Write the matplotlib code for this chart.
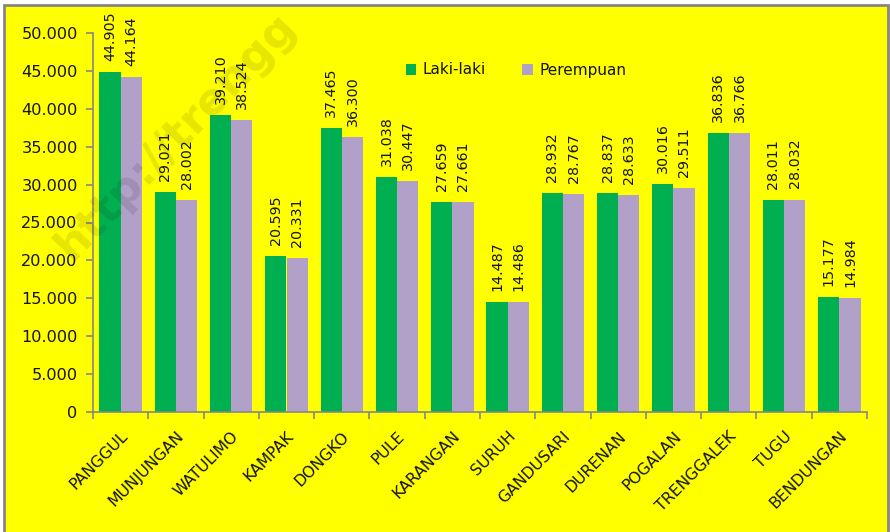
"""Jumlah penduduk per kecamatan di Trenggalek, laki-laki dan perempuan."""

import matplotlib

matplotlib.use("Agg")
import matplotlib.pyplot as plt
import numpy as np
from matplotlib.patches import Rectangle
from matplotlib.ticker import FuncFormatter, MultipleLocator

KECAMATAN = ["PANGGUL", "MUNJUNGAN", "WATULIMO", "KAMPAK", "DONGKO", "PULE",
             "KARANGAN", "SURUH", "GANDUSARI", "DURENAN", "POGALAN",
             "TRENGGALEK", "TUGU", "BENDUNGAN"]
LAKI = [44905, 29021, 39210, 20595, 37465, 31038, 27659, 14487, 28932,
        28837, 30016, 36836, 28011, 15177]
PEREMPUAN = [44164, 28002, 38524, 20331, 36300, 30447, 27661, 14486, 28767,
             28633, 29511, 36766, 28032, 14984]

GREEN = "#00B050"
PURPLE = "#B1A0C7"
YELLOW = "#FFFF00"
GREY = "#868686"
TEXT = "#141414"


def ribuan(v):
    return f"{int(v):,}".replace(",", ".")


def main():
    fig = plt.figure(figsize=(8.9, 5.32), dpi=100, facecolor="white")
    bg = Rectangle((4 / 890, -0.05), 884 / 890, 1.05 - 5 / 532,
                   transform=fig.transFigure, facecolor=YELLOW,
                   edgecolor=GREY, linewidth=2.0, zorder=-1)
    fig.patches.append(bg)

    ax = fig.add_axes([93 / 890, 1 - 412 / 532, 774 / 890, 379 / 532])
    ax.set_zorder(1)
    ax.set_facecolor("none")

    x = np.arange(len(KECAMATAN))
    w = 0.385
    b1 = ax.bar(x - w / 2, LAKI, w, color=GREEN, label="Laki-laki", zorder=2)
    b2 = ax.bar(x + w / 2, PEREMPUAN, w, color=PURPLE, label="Perempuan", zorder=2)

    for bars, vals in ((b1, LAKI), (b2, PEREMPUAN)):
        for r, v in zip(bars, vals):
            ax.annotate(ribuan(v), (r.get_x() + r.get_width() / 2, v),
                        xytext=(0, 8), textcoords="offset points",
                        rotation=90, ha="center", va="bottom",
                        fontsize=10.3, color=TEXT, annotation_clip=False)

    ax.set_xlim(-0.5, len(KECAMATAN) - 0.5)
    ax.set_ylim(0, 50000)
    ax.yaxis.set_major_locator(MultipleLocator(5000))
    ax.yaxis.set_major_formatter(FuncFormatter(lambda v, _: ribuan(v)))
    ax.tick_params(axis="y", labelsize=11.6, colors=GREY, labelcolor=TEXT,
                   length=5, width=1.2, pad=6)

    ax.set_xticks(x)
    ax.set_xticklabels(KECAMATAN, rotation=45, ha="right",
                       rotation_mode="anchor", fontsize=11.3, color=TEXT)
    ax.set_xticks(np.arange(len(KECAMATAN) + 1) - 0.5, minor=True)
    ax.tick_params(axis="x", which="major", length=0, pad=12)
    ax.tick_params(axis="x", which="minor", length=5, width=1.2, colors=GREY)

    for s in ("top", "right"):
        ax.spines[s].set_visible(False)
    for s in ("left", "bottom"):
        ax.spines[s].set_color(GREY)
        ax.spines[s].set_linewidth(1.2)

    leg = ax.legend(loc="center", bbox_to_anchor=(516 / 890, 1 - 70 / 532),
                    bbox_transform=fig.transFigure,
                    ncol=2, frameon=False, fontsize=11, handlelength=0.7,
                    handleheight=0.7, handletextpad=0.4, columnspacing=2.4)
    for t in leg.get_texts():
        t.set_color(TEXT)

    fig.text(72 / 890, 1 - 262 / 532, "http://trengg",
             rotation=46, rotation_mode="anchor", ha="left", va="baseline",
             fontsize=32, fontweight="bold", color="black", alpha=0.1,
             zorder=5)

    fig.savefig("out.png", dpi=100, facecolor="white")
    plt.close(fig)


if __name__ == "__main__":
    main()
